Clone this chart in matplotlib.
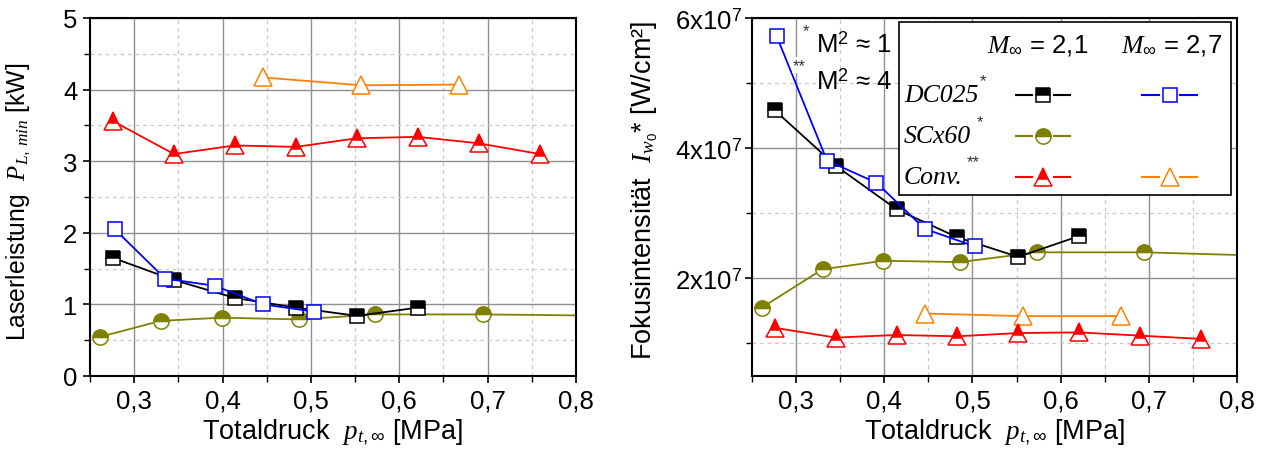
import matplotlib
matplotlib.use("Agg")
import matplotlib.pyplot as plt
from matplotlib.ticker import MultipleLocator, FuncFormatter
from matplotlib.patches import Rectangle

plt.rcParams['font.family'] = ['Liberation Sans', 'DejaVu Sans']
plt.rcParams['mathtext.fontset'] = 'custom'
plt.rcParams['mathtext.rm'] = 'Liberation Sans'
plt.rcParams['mathtext.it'] = 'Liberation Serif:italic'
plt.rcParams['mathtext.bf'] = 'Liberation Sans:bold'

# data (pressure in MPa, power in kW, intensity in W/cm^2 / 1e7)
p_conv21 = [0.276, 0.345, 0.414, 0.483, 0.552, 0.621, 0.690, 0.759]
PL_conv21 = [3.56, 3.10, 3.22, 3.20, 3.32, 3.34, 3.25, 3.10]
I_conv21 = [1.24, 1.09, 1.13, 1.11, 1.16, 1.17, 1.12, 1.07]

p_conv27 = [0.446, 0.557, 0.668]
PL_conv27 = [4.17, 4.06, 4.07]
I_conv27 = [1.46, 1.42, 1.42]

p_dc21 = [0.276, 0.345, 0.414, 0.483, 0.552, 0.621]
PL_dc21 = [1.65, 1.34, 1.09, 0.955, 0.84, 0.955]
I_dc21 = [4.58, 3.73, 3.06, 2.63, 2.33, 2.65]

p_dc27 = [0.278, 0.335, 0.391, 0.446, 0.503]
PL_dc27 = [2.05, 1.36, 1.26, 1.00, 0.90]
I_dc27 = [5.72, 3.81, 3.47, 2.76, 2.49]

p_sc = [0.261, 0.330, 0.399, 0.486, 0.573, 0.695, 0.85]
PL_sc = [0.545, 0.77, 0.815, 0.79, 0.86, 0.86, 0.84]
I_sc = [1.55, 2.14, 2.27, 2.25, 2.40, 2.40, 2.34]

# styles
st_dc21 = dict(color='black', marker='s', ms=9.5, fillstyle='top', mfc='black', mfcalt='white', mec='black')
st_dc27 = dict(color='#0000ff', marker='s', ms=9.5, fillstyle='full', mfc='white', mfcalt='white', mec='#0000ff')
st_sc = dict(color='#808000', marker='o', ms=11, fillstyle='top', mfc='#808000', mfcalt='white', mec='#808000')
st_conv21 = dict(color='#ff0000', marker='^', ms=13, fillstyle='top', mfc='#ff0000', mfcalt='white', mec='#ff0000')
st_conv27 = dict(color='#ff8000', marker='^', ms=13, fillstyle='full', mfc='white', mfcalt='white', mec='#ff8000')


def draw(ax, x, y, st, **kw):
    ax.plot(x, y, color=st['color'], lw=1.3, marker=st['marker'], ms=st['ms'],
            fillstyle=st['fillstyle'], markerfacecolor=st['mfc'],
            markerfacecoloralt=st['mfcalt'], markeredgecolor=st['mec'],
            markeredgewidth=1.1, **kw)


comma = FuncFormatter(lambda v, p: f"{v:.1f}".replace('.', ','))

fig = plt.figure(figsize=(12.69, 4.56), dpi=100)
ax1 = fig.add_axes([90 / 1269, 79 / 456, 486 / 1269, 358 / 456])
ax2 = fig.add_axes([752 / 1269, 79 / 456, 485 / 1269, 358 / 456])

for ax in (ax1, ax2):
    ax.set_axisbelow(True)
    ax.set_xlim(0.25, 0.8)
    ax.xaxis.set_major_locator(MultipleLocator(0.1))
    ax.xaxis.set_minor_locator(MultipleLocator(0.05))
    ax.xaxis.set_major_formatter(comma)
    ax.grid(which='major', color='#909090', lw=1.0, ls='-')
    ax.grid(which='minor', color='#c8c8c8', lw=0.9, ls=(0, (3, 3)))
    ax.tick_params(which='major', direction='out', length=5, width=1.2, labelsize=18.5, pad=4)
    ax.tick_params(which='minor', direction='out', length=4, width=1.0)
    for s in ax.spines.values():
        s.set_linewidth(1.5)
    ax.set_xlabel(r"Totaldruck  $p_{t,\infty}$ [MPa]", fontsize=19.5)
    ax.xaxis.set_label_coords(0.5, -0.115)

# left panel
ax1.set_ylim(0, 5)
ax1.yaxis.set_major_locator(MultipleLocator(1))
ax1.yaxis.set_minor_locator(MultipleLocator(0.5))
ax1.set_ylabel(r"Laserleistung  $P_{L,\,min}$ [kW]", fontsize=17.8)
ax1.yaxis.set_label_coords(-0.12, 0.49)

draw(ax1, p_conv27, PL_conv27, st_conv27)
draw(ax1, p_conv21, PL_conv21, st_conv21)
draw(ax1, p_sc, PL_sc, st_sc)
draw(ax1, p_dc21, PL_dc21, st_dc21)
draw(ax1, p_dc27, PL_dc27, st_dc27)

# right panel
ax2.set_ylim(0.5, 6)
ax2.yaxis.set_major_locator(MultipleLocator(2))
ax2.yaxis.set_minor_locator(MultipleLocator(1))
ax2.yaxis.set_major_formatter(FuncFormatter(lambda v, p: f"{v:.0f}x10$^7$"))
ax2.tick_params(axis='y', which='major', pad=2)
ax2.set_ylabel(r"Fokusintensität  $I_{w_0}$* [W/cm²]", fontsize=19.5)
ax2.yaxis.set_label_coords(-0.19, 0.52)

draw(ax2, p_conv27, I_conv27, st_conv27)
draw(ax2, p_conv21, I_conv21, st_conv21)
draw(ax2, p_sc, I_sc, st_sc)
draw(ax2, p_dc21, I_dc21, st_dc21)
draw(ax2, p_dc27, I_dc27, st_dc27)

# beam quality notes
tr = ax2.transAxes
ax2.text(0.105, 0.965, "*", transform=tr, fontsize=12, color='#333333', ha='left', va='center')
ax2.text(0.132, 0.927, r"M$^2$ ≈ 1", transform=tr, fontsize=18.5, ha='left', va='center')
ax2.text(0.083, 0.868, "**", transform=tr, fontsize=12, color='#333333', ha='left', va='center',
         bbox=dict(fc='white', ec='none', pad=0.5))
ax2.text(0.132, 0.824, r"M$^2$ ≈ 4", transform=tr, fontsize=18.5, ha='left', va='center')

# legend box
ax2.add_patch(Rectangle((0.303, 0.506), 0.685, 0.483, transform=tr, fc='white',
                        ec='black', lw=1.2, zorder=5, clip_on=False))
ax2.text(0.588, 0.927, r"$M_\infty$ = 2,1", transform=tr, fontsize=18.5, ha='center', va='center', zorder=6)
ax2.text(0.866, 0.927, r"$M_\infty$ = 2,7", transform=tr, fontsize=18.5, ha='center', va='center', zorder=6)

rows = [("DC025", "*", 0.785, 0.470, 0.826, st_dc21, st_dc27),
        ("SCx60", "*", 0.670, 0.464, 0.711, st_sc, None),
        ("Conv.", "**", 0.556, 0.443, 0.600, st_conv21, st_conv27)]
for name, star, y, sx, sy, s1, s2 in rows:
    ax2.text(0.313, y, name, transform=tr, fontsize=18.5, family='Liberation Serif',
             style='italic', ha='left', va='center', zorder=6)
    ax2.text(sx, sy, star, transform=tr, fontsize=12, color='#333333', ha='left', va='center', zorder=6)
    for xc, s in ((0.600, s1), (0.861, s2)):
        if s is None:
            continue
        for xs in ([xc - 0.056, xc - 0.022], [xc + 0.022, xc + 0.056]):
            ax2.plot(xs, [y, y], color=s['color'], lw=1.5, transform=tr, zorder=6, clip_on=False)
        ax2.plot([xc], [y], color=s['color'], marker=s['marker'], ms=s['ms'],
                 fillstyle=s['fillstyle'], markerfacecolor=s['mfc'],
                 markerfacecoloralt=s['mfcalt'], markeredgecolor=s['mec'],
                 markeredgewidth=1.1, transform=tr, zorder=7, clip_on=False)

fig.savefig("out.png", dpi=100)
